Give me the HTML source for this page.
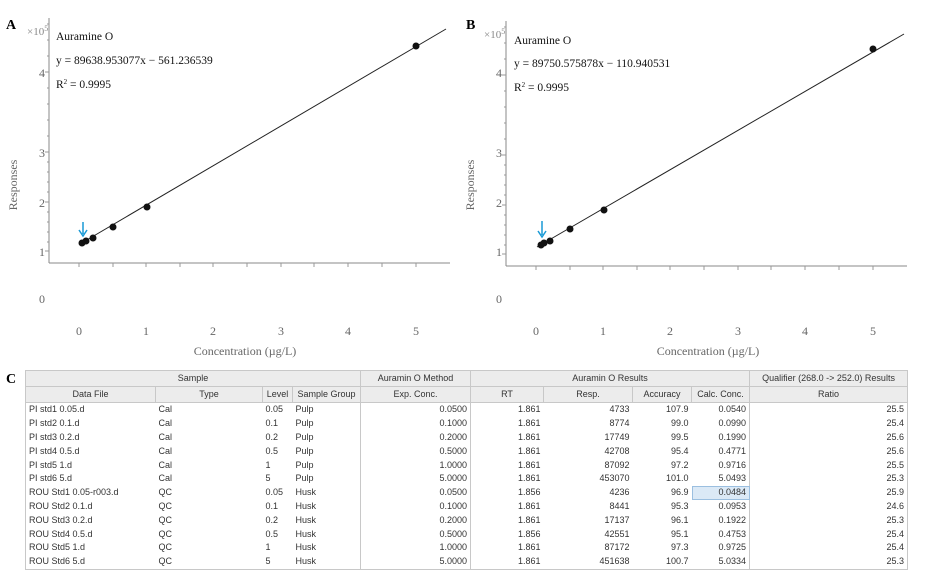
<!DOCTYPE html>
<html><head><style>
body{margin:0;background:#fff;width:925px;height:576px;overflow:hidden;position:relative;font-family:"Liberation Serif",serif}
svg{position:absolute;left:0;top:0}
table{position:absolute;left:25px;top:370px;width:882px;border-collapse:collapse;table-layout:fixed;font-family:"Liberation Sans",sans-serif;font-size:9px;color:#333}
td{height:13.8px;padding:0 3px;white-space:nowrap;overflow:hidden;line-height:13px}
tr.h td{background:#ececec;text-align:center;border:1px solid #c8c8c8;height:15px}
.r{text-align:right}
.bl{border-left:1px solid #c8c8c8!important}
table{border:1px solid #c8c8c8}
</style></head><body>
<svg width="925" height="370" font-family="Liberation Serif, serif">
<!-- A -->
<g>
<text x="6" y="29" font-size="14" font-weight="bold">A</text>
<text x="27" y="35" font-size="11" fill="#888">×10<tspan font-size="8" dy="-4">5</tspan></text>
<line x1="49" y1="18" x2="49" y2="263" stroke="#888"/>
<line x1="49" y1="263" x2="450" y2="263" stroke="#888"/>
<g stroke="#999">
<line x1="45" y1="72" x2="49" y2="72"/><line x1="45" y1="152" x2="49" y2="152"/><line x1="45" y1="202" x2="49" y2="202"/><line x1="45" y1="251" x2="49" y2="251"/>
<path d="M47 24h2M47 40h2M47 56h2M47 88h2M47 104h2M47 120h2M47 136h2M47 162h2M47 172h2M47 182h2M47 192h2M47 212h2M47 222h2M47 232h2M47 242h2"/>
<path d="M79 263v4M113 263v4M146 263v4M180 263v4M213 263v4M247 263v4M281 263v4M314 263v4M348 263v4M382 263v4M416 263v4"/>
</g>
<g font-size="12" fill="#666" text-anchor="middle">
<text x="42" y="77">4</text><text x="42" y="157">3</text><text x="42" y="207">2</text><text x="42" y="256">1</text><text x="42" y="303">0</text>
<text x="79" y="335">0</text><text x="146" y="335">1</text><text x="213" y="335">2</text><text x="281" y="335">3</text><text x="348" y="335">4</text><text x="416" y="335">5</text>
<text x="245" y="355">Concentration (µg/L)</text>
<text transform="translate(17,185) rotate(-90)">Responses</text>
</g>
<line x1="80" y1="244" x2="446" y2="29" stroke="#222"/>
<g fill="#111"><circle cx="82" cy="243" r="3.5"/><circle cx="86" cy="241" r="3.5"/><circle cx="93" cy="238" r="3.5"/><circle cx="113" cy="227" r="3.5"/><circle cx="147" cy="207" r="3.5"/><circle cx="416" cy="46" r="3.5"/></g>
<path d="M83 222v12M79 230l4 6l4-6" stroke="#1a9ad6" stroke-width="1.5" fill="none"/>
<g font-size="11.5" fill="#111"><text x="56" y="40">Auramine O</text><text x="56" y="64">y = 89638.953077x − 561.236539</text><text x="56" y="88">R<tspan font-size="7" dy="-4">2</tspan><tspan dy="4"> = 0.9995</tspan></text></g>
</g>
<!-- B -->
<g transform="translate(457,3)">
<text x="9" y="26" font-size="14" font-weight="bold">B</text>
<text x="27" y="35" font-size="11" fill="#888">×10<tspan font-size="8" dy="-4">5</tspan></text>
<line x1="49" y1="18" x2="49" y2="263" stroke="#888"/>
<line x1="49" y1="263" x2="450" y2="263" stroke="#888"/>
<g stroke="#999">
<line x1="45" y1="72" x2="49" y2="72"/><line x1="45" y1="152" x2="49" y2="152"/><line x1="45" y1="202" x2="49" y2="202"/><line x1="45" y1="251" x2="49" y2="251"/>
<path d="M47 24h2M47 40h2M47 56h2M47 88h2M47 104h2M47 120h2M47 136h2M47 162h2M47 172h2M47 182h2M47 192h2M47 212h2M47 222h2M47 232h2M47 242h2"/>
<path d="M79 263v4M113 263v4M146 263v4M180 263v4M213 263v4M247 263v4M281 263v4M314 263v4M348 263v4M382 263v4M416 263v4"/>
</g>
<g font-size="12" fill="#666" text-anchor="middle">
<text x="42" y="74">4</text><text x="42" y="154">3</text><text x="42" y="204">2</text><text x="42" y="253">1</text><text x="42" y="300">0</text>
<text x="79" y="332">0</text><text x="146" y="332">1</text><text x="213" y="332">2</text><text x="281" y="332">3</text><text x="348" y="332">4</text><text x="416" y="332">5</text>
<text x="251" y="352">Concentration (µg/L)</text>
<text transform="translate(17,182) rotate(-90)">Responses</text>
</g>
<line x1="80" y1="244" x2="447" y2="31" stroke="#222"/>
<g fill="#111"><circle cx="84" cy="242" r="3.5"/><circle cx="87" cy="240" r="3.5"/><circle cx="93" cy="238" r="3.5"/><circle cx="113" cy="226" r="3.5"/><circle cx="147" cy="207" r="3.5"/><circle cx="416" cy="46" r="3.5"/></g>
<path d="M85 218v14M81 228l4 6l4-6" stroke="#1a9ad6" stroke-width="1.5" fill="none"/>
<g font-size="11.5" fill="#111"><text x="57" y="41">Auramine O</text><text x="57" y="64">y = 89750.575878x − 110.940531</text><text x="57" y="88">R<tspan font-size="7" dy="-4">2</tspan><tspan dy="4"> = 0.9995</tspan></text></g>
</g>
</svg>
<svg width="925" height="30" style="top:370px"><text x="6" y="13" font-size="14" font-weight="bold" font-family="Liberation Serif,serif">C</text></svg>
<table>
<colgroup><col style="width:130px"><col style="width:107px"><col style="width:30px"><col style="width:68px"><col style="width:110px"><col style="width:73px"><col style="width:89px"><col style="width:59px"><col style="width:58px"><col style="width:158px"></colgroup>
<tr class="h"><td colspan="4">Sample</td><td>Auramin O Method</td><td colspan="4">Auramin O Results</td><td>Qualifier (268.0 -&gt; 252.0) Results</td></tr>
<tr class="h"><td>Data File</td><td>Type</td><td>Level</td><td>Sample Group</td><td>Exp. Conc.</td><td>RT</td><td>Resp.</td><td>Accuracy</td><td>Calc. Conc.</td><td>Ratio</td></tr>
<tr><td>PI std1 0.05.d</td><td>Cal</td><td>0.05</td><td>Pulp</td><td class="r bl">0.0500</td><td class="r bl">1.861</td><td class="r">4733</td><td class="r">107.9</td><td class="r">0.0540</td><td class="r bl">25.5</td></tr>
<tr><td>PI std2 0.1.d</td><td>Cal</td><td>0.1</td><td>Pulp</td><td class="r bl">0.1000</td><td class="r bl">1.861</td><td class="r">8774</td><td class="r">99.0</td><td class="r">0.0990</td><td class="r bl">25.4</td></tr>
<tr><td>PI std3 0.2.d</td><td>Cal</td><td>0.2</td><td>Pulp</td><td class="r bl">0.2000</td><td class="r bl">1.861</td><td class="r">17749</td><td class="r">99.5</td><td class="r">0.1990</td><td class="r bl">25.6</td></tr>
<tr><td>PI std4 0.5.d</td><td>Cal</td><td>0.5</td><td>Pulp</td><td class="r bl">0.5000</td><td class="r bl">1.861</td><td class="r">42708</td><td class="r">95.4</td><td class="r">0.4771</td><td class="r bl">25.6</td></tr>
<tr><td>PI std5 1.d</td><td>Cal</td><td>1</td><td>Pulp</td><td class="r bl">1.0000</td><td class="r bl">1.861</td><td class="r">87092</td><td class="r">97.2</td><td class="r">0.9716</td><td class="r bl">25.5</td></tr>
<tr><td>PI std6 5.d</td><td>Cal</td><td>5</td><td>Pulp</td><td class="r bl">5.0000</td><td class="r bl">1.861</td><td class="r">453070</td><td class="r">101.0</td><td class="r">5.0493</td><td class="r bl">25.3</td></tr>
<tr><td>ROU Std1 0.05-r003.d</td><td>QC</td><td>0.05</td><td>Husk</td><td class="r bl">0.0500</td><td class="r bl">1.856</td><td class="r">4236</td><td class="r">96.9</td><td class="r" style="background:#dbe9f6;outline:1px solid #9bbfe0;outline-offset:-1px">0.0484</td><td class="r bl">25.9</td></tr>
<tr><td>ROU Std2 0.1.d</td><td>QC</td><td>0.1</td><td>Husk</td><td class="r bl">0.1000</td><td class="r bl">1.861</td><td class="r">8441</td><td class="r">95.3</td><td class="r">0.0953</td><td class="r bl">24.6</td></tr>
<tr><td>ROU Std3 0.2.d</td><td>QC</td><td>0.2</td><td>Husk</td><td class="r bl">0.2000</td><td class="r bl">1.861</td><td class="r">17137</td><td class="r">96.1</td><td class="r">0.1922</td><td class="r bl">25.3</td></tr>
<tr><td>ROU Std4 0.5.d</td><td>QC</td><td>0.5</td><td>Husk</td><td class="r bl">0.5000</td><td class="r bl">1.856</td><td class="r">42551</td><td class="r">95.1</td><td class="r">0.4753</td><td class="r bl">25.4</td></tr>
<tr><td>ROU Std5 1.d</td><td>QC</td><td>1</td><td>Husk</td><td class="r bl">1.0000</td><td class="r bl">1.861</td><td class="r">87172</td><td class="r">97.3</td><td class="r">0.9725</td><td class="r bl">25.4</td></tr>
<tr><td>ROU Std6 5.d</td><td>QC</td><td>5</td><td>Husk</td><td class="r bl">5.0000</td><td class="r bl">1.861</td><td class="r">451638</td><td class="r">100.7</td><td class="r">5.0334</td><td class="r bl">25.3</td></tr>
</table>
</body></html>
